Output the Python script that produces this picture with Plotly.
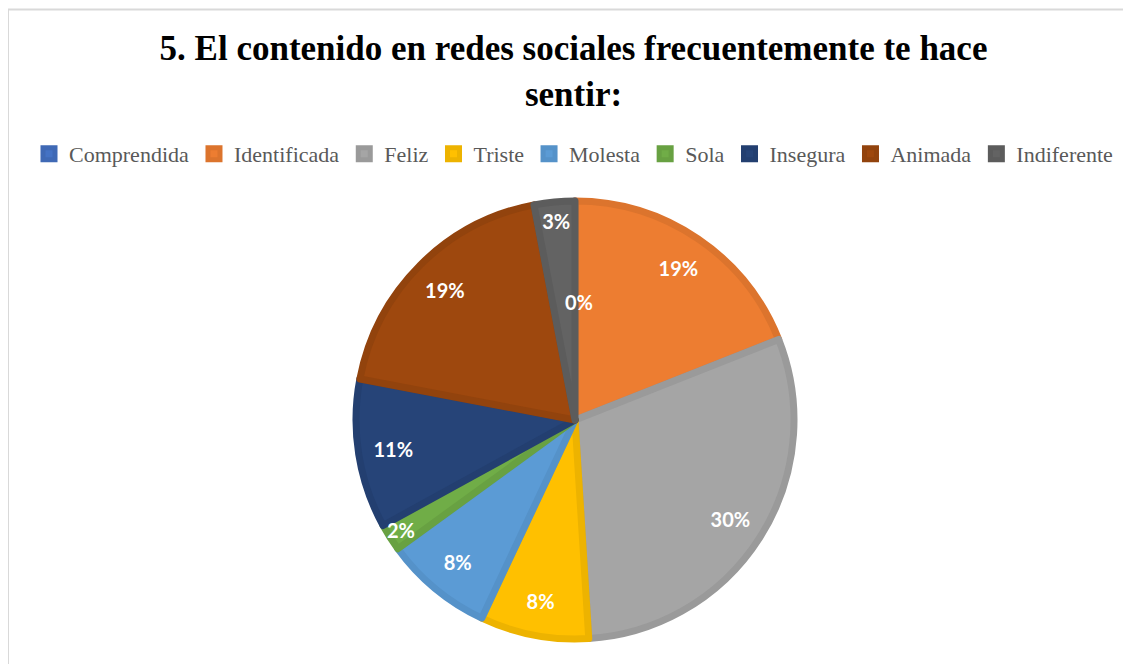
import math
import plotly.graph_objects as go

categories = ["Comprendida", "Identificada", "Feliz", "Triste", "Molesta",
              "Sola", "Insegura", "Animada", "Indiferente"]
values = [0, 19, 30, 8, 8, 2, 11, 19, 3]
colors = ["#4472C4", "#ED7D31", "#A5A5A5", "#FFC000", "#5B9BD5",
          "#70AD47", "#264478", "#9E480E", "#636363"]
border_colors = ["#3F69B5", "#DC742D", "#9A9A9A", "#EDB300", "#5592C9",
                 "#68A142", "#233F70", "#92430D", "#5C5C5C"]

W, H = 1131, 664
OFF = 8  # page body margin
cx, cy, r = 575 - OFF, 420 - OFF, 219
dom = dict(x=[(cx - r) / W, (cx + r) / W], y=[1 - (cy + r) / H, 1 - (cy - r) / H])
label_font = dict(family="Lato", size=20, color="white", weight="bold")

fig = go.Figure()
fig.add_trace(go.Pie(
    labels=categories, values=values, sort=False, direction="clockwise", rotation=0,
    marker=dict(colors=colors, line=dict(color=border_colors, width=7)),
    textinfo="none", hoverinfo="label+percent", domain=dom,
))
# transparent ring overlay to place the percentage labels near the outer edge
fig.add_trace(go.Pie(
    labels=categories, values=values, sort=False, direction="clockwise", rotation=0,
    hole=0.68, showlegend=False, hoverinfo="skip",
    marker=dict(colors=["rgba(0,0,0,0)"] * len(values), line=dict(width=0)),
    texttemplate=["%{percent:.0%}" if v > 0 else "" for v in values],
    textposition="inside",
    insidetextorientation="horizontal", textfont=label_font, domain=dom,
))

# labels for zero-valued slices
total = sum(values)
annotations = []
cum = 0
for cat, v in zip(categories, values):
    mid = (cum + v / 2) / total * 2 * math.pi
    cum += v
    if v == 0:
        rr = 0.54 * r
        px = cx + rr * math.sin(mid)
        py = cy - rr * math.cos(mid)
        annotations.append(dict(
            text=f"{v / total:.0%}", x=px / W, y=1 - py / H, xref="paper", yref="paper",
            showarrow=False, font=label_font, xanchor="center", xshift=4,
            yanchor="middle"))

fig.update_layout(
    width=W, height=H,
    margin=dict(l=0, r=0, t=0, b=0),
    paper_bgcolor="white",
    uniformtext=dict(minsize=20, mode="show"),
    title=dict(
        text="5. El contenido en redes sociales frecuentemente te hace<br>sentir:",
        x=0.5, xanchor="center", y=1 - 52 / H, yanchor="top",
        font=dict(family="Liberation Serif", size=35, color="black", weight="bold"),
    ),
    legend=dict(
        orientation="h", x=0.5, xanchor="center", y=1 - (154 - OFF) / H, yanchor="middle",
        font=dict(family="Liberation Serif", size=22, color="#595959"),
        itemwidth=30, traceorder="normal",
    ),
    annotations=annotations,
    shapes=[dict(type="rect", xref="paper", yref="paper",
                 x0=0, x1=1.05, y0=-0.05, y1=1 - 1.5 / H,
                 line=dict(color="#D9D9D9", width=2))],
)

fig.write_html("out.html")
